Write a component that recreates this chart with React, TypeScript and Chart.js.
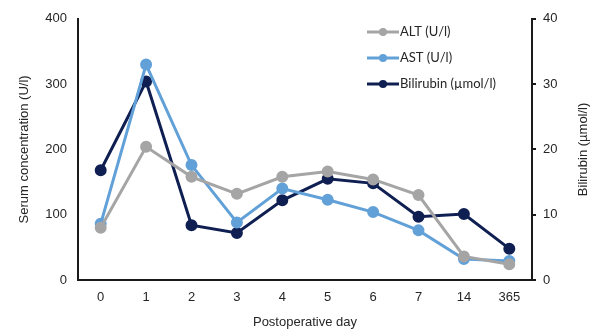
import React, { useEffect, useRef } from "react";
import { Chart, registerables } from "chart.js";

Chart.register(...registerables);

const days = ["0", "1", "2", "3", "4", "5", "6", "7", "14", "365"];
const altValues = [80, 204, 158, 132, 158, 166, 154, 130, 36, 24];
const astValues = [86, 330, 176, 88, 140, 123, 104, 76, 32, 29];
const bilirubinValues = [16.8, 30.4, 8.4, 7.2, 12.2, 15.5, 14.8, 9.7, 10.1, 4.8];
const leftTicks = [0, 100, 200, 300, 400];
const rightTicks = [0, 10, 20, 30, 40];
const rightTitle = "Bilirubin (µmol/l)";

const ALT_COLOR = "#a5a5a5";
const AST_COLOR = "#62a0d8";
const BIL_COLOR = "#0f1f52";
const AXIS_COLOR = "#1a1a1a";
const TEXT_COLOR = "#262626";
const TICK_FONT = { family: "'Liberation Sans', Arial, sans-serif", size: 13 };

const legendPlugin = {
  id: "customLegend",
  afterDraw(chart: any) {
    const ctx = chart.ctx;
    const x0 = 367;
    const x1 = 399;
    const ys = [32, 58, 84];
    ctx.save();
    chart.data.datasets.forEach((ds: any, i: number) => {
      const y = ys[i];
      ctx.strokeStyle = ds.borderColor;
      ctx.lineWidth = 3;
      ctx.beginPath();
      ctx.moveTo(x0, y);
      ctx.lineTo(x1, y);
      ctx.stroke();
      ctx.fillStyle = ds.borderColor;
      ctx.beginPath();
      ctx.arc((x0 + x1) / 2, y, 4, 0, Math.PI * 2);
      ctx.fill();
      ctx.fillStyle = TEXT_COLOR;
      ctx.font = "13px Lato, 'Open Sans', sans-serif";
      ctx.textBaseline = "middle";
      ctx.textAlign = "left";
      ctx.fillText(ds.label, x1 + 1, y);
    });
    // right axis title, reading bottom-to-top
    const area = chart.chartArea;
    ctx.translate(chart.width - 8, (area.top + area.bottom) / 2);
    ctx.rotate(-Math.PI / 2);
    ctx.fillStyle = TEXT_COLOR;
    ctx.font = "13px 'Liberation Sans', Arial, sans-serif";
    ctx.textAlign = "center";
    ctx.textBaseline = "middle";
    ctx.fillText(rightTitle, 0, 0);
    ctx.restore();
  },
};

export default function App() {
  const ref = useRef<HTMLCanvasElement>(null);
  useEffect(() => {
    if (!ref.current) return;
    const mk = (label: string, data: number[], color: string, axis: string) => ({
      label,
      data,
      borderColor: color,
      backgroundColor: color,
      pointBackgroundColor: color,
      pointBorderColor: color,
      borderWidth: 3,
      pointRadius: 4.5,
      pointHoverRadius: 4.5,
      tension: 0,
      yAxisID: axis,
    });
    const chart = new Chart(ref.current, {
      type: "line",
      data: {
        labels: days,
        datasets: [
          mk("ALT (U/l)", altValues, ALT_COLOR, "y"),
          mk("AST (U/l)", astValues, AST_COLOR, "y"),
          mk("Bilirubin (µmol/l)", bilirubinValues, BIL_COLOR, "y1"),
        ],
      },
      options: {
        animation: false,
        responsive: false,
        maintainAspectRatio: false,
        layout: { padding: { top: 16, left: 0, right: 0, bottom: 0 } },
        plugins: { legend: { display: false }, tooltip: { enabled: false } },
        scales: {
          x: {
            offset: true,
            grid: { display: false, drawTicks: false },
            border: { display: true, color: AXIS_COLOR, width: 2 },
            ticks: { color: TEXT_COLOR, font: TICK_FONT, padding: 10, maxRotation: 0 },
            title: {
              display: true,
              text: "Postoperative day",
              color: TEXT_COLOR,
              font: TICK_FONT,
              padding: { top: 0, bottom: 5 },
            },
            afterFit: (s: any) => {
              s.height = 55;
            },
          },
          y: {
            position: "left",
            min: 0,
            max: 400,
            afterBuildTicks: (s: any) => {
              s.ticks = leftTicks.map((v) => ({ value: v }));
            },
            grid: { display: false, drawTicks: false },
            border: { display: true, color: AXIS_COLOR, width: 2 },
            ticks: { color: TEXT_COLOR, font: TICK_FONT, padding: 11 },
            title: {
              display: true,
              text: "Serum concentration (U/l)",
              color: TEXT_COLOR,
              font: TICK_FONT,
              padding: { top: 17, bottom: 0 },
            },
            afterFit: (s: any) => {
              s.width = 78;
            },
          },
          y1: {
            position: "right",
            min: 0,
            max: 40,
            afterBuildTicks: (s: any) => {
              s.ticks = rightTicks.map((v) => ({ value: v }));
            },
            grid: {
              display: true,
              drawOnChartArea: false,
              drawTicks: true,
              tickLength: 4,
              color: AXIS_COLOR,
              lineWidth: 2,
            },
            border: { display: true, color: AXIS_COLOR, width: 2 },
            ticks: { color: TEXT_COLOR, font: TICK_FONT, padding: 7 },
            title: { display: false },
            afterFit: (s: any) => {
              s.width = 59;
            },
          },
        },
      },
      plugins: [legendPlugin],
    });
    return () => chart.destroy();
  }, []);
  return (
    <div style={{ position: "fixed", left: 0, top: 0, width: 591, height: 335, background: "#fff" }}>
      <canvas ref={ref} width={591} height={335} style={{ width: 591, height: 335 }} />
    </div>
  );
}
